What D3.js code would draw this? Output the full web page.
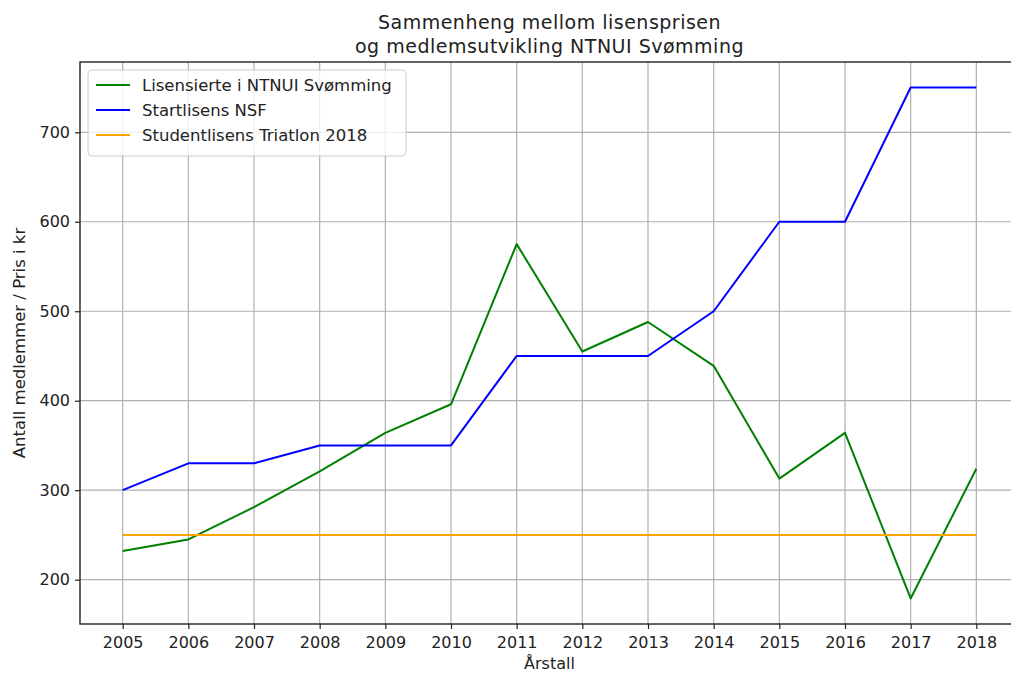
<!DOCTYPE html>
<html>
<head>
<meta charset="utf-8">
<script src="https://cdn.jsdelivr.net/npm/d3@7.9.0/dist/d3.min.js"></script>
<style>
  body { margin: 0; background: #fff; }
  svg { font-family: "DejaVu Sans", sans-serif; }
</style>
</head>
<body>
<svg id="chart" width="1011" height="673"></svg>
<script>
const years = [2005, 2006, 2007, 2008, 2009, 2010, 2011, 2012, 2013, 2014, 2015, 2016, 2017, 2018];
const lisensierte = [232, 245, 281, 321, 364, 396, 575, 455, 488, 439, 313, 364, 179, 324];
const startlisens = [300, 330, 330, 350, 350, 350, 450, 450, 450, 500, 600, 600, 750, 750];
const studentlisens = [250, 250, 250, 250, 250, 250, 250, 250, 250, 250, 250, 250, 250, 250];
const yTicks = [200, 300, 400, 500, 600, 700];

const seriesNames = ["Lisensierte i NTNUI Svømming", "Startlisens NSF", "Studentlisens Triatlon 2018"];
const seriesColors = ["#008000", "#0000ff", "#ffa500"];
const seriesValues = [lisensierte, startlisens, studentlisens];

const svg = d3.select("#chart");
const margin = { left: 80, right: -8, top: 62, bottom: 49 };
const W = 1011, H = 673;
const fs = "16px";

// matplotlib-style 5% padding around the data range
const xPad = (d3.max(years) - d3.min(years)) * 0.05;
const x = d3.scaleLinear()
    .domain([d3.min(years) - xPad, d3.max(years) + xPad])
    .range([margin.left, W - margin.right]);

const allVals = seriesValues.flat();
const yPad = (d3.max(allVals) - d3.min(allVals)) * 0.05;
const y = d3.scaleLinear()
    .domain([d3.min(allVals) - yPad, d3.max(allVals) + yPad])
    .range([H - margin.bottom, margin.top]);

// grid
const grid = svg.append("g");
grid.selectAll("line.gx").data(years).enter().append("line")
    .attr("x1", d => x(d)).attr("x2", d => x(d))
    .attr("y1", margin.top).attr("y2", H - margin.bottom)
    .attr("stroke", "#b0b0b0").attr("stroke-width", 1.2);
grid.selectAll("line.gy").data(yTicks).enter().append("line")
    .attr("x1", margin.left).attr("x2", W - margin.right)
    .attr("y1", d => y(d)).attr("y2", d => y(d))
    .attr("stroke", "#b0b0b0").attr("stroke-width", 1.2);

// lines
const line = d3.line()
    .x((d, i) => x(years[i]))
    .y(d => y(d));

seriesValues.forEach((vals, k) => {
    svg.append("path")
        .datum(vals)
        .attr("d", line)
        .attr("fill", "none")
        .attr("stroke", seriesColors[k])
        .attr("stroke-width", 2)
        .attr("stroke-linejoin", "round");
});

// axes
const xAxis = d3.axisBottom(x).tickValues(years).tickFormat(d3.format("d")).tickSize(5).tickPadding(8);
const yAxis = d3.axisLeft(y).tickValues(yTicks).tickSize(5).tickPadding(5);

const gx = svg.append("g").attr("transform", `translate(0,${H - margin.bottom})`).call(xAxis);
const gy = svg.append("g").attr("transform", `translate(${margin.left},0)`).call(yAxis);
[gx, gy].forEach(g => {
    g.select(".domain").remove();
    g.selectAll("line").attr("stroke", "#222").attr("stroke-width", 1.2);
    g.selectAll("text").attr("fill", "#222").style("font-size", fs)
        .style("font-family", "DejaVu Sans, sans-serif");
});

// spines
svg.append("rect")
    .attr("x", margin.left).attr("y", margin.top)
    .attr("width", W - margin.right - margin.left)
    .attr("height", H - margin.bottom - margin.top)
    .attr("fill", "none").attr("stroke", "#222").attr("stroke-width", 1.4);

// title
const cx = (margin.left + W - margin.right) / 2;
const title = svg.append("text").attr("text-anchor", "middle").attr("fill", "#222")
    .style("font-size", "19px").style("letter-spacing", "0.5px");
title.append("tspan").attr("x", cx).attr("y", 29).text("Sammenheng mellom lisensprisen");
title.append("tspan").attr("x", cx).attr("y", 53).text("og medlemsutvikling NTNUI Svømming");

// axis labels
svg.append("text").attr("x", cx).attr("y", 669).attr("text-anchor", "middle")
    .attr("fill", "#222").style("font-size", fs).text("Årstall");
svg.append("text").attr("transform", `translate(25,${(margin.top + H - margin.bottom) / 2}) rotate(-90)`)
    .attr("text-anchor", "middle").attr("fill", "#222").style("font-size", "16.5px")
    .text("Antall medlemmer / Pris i kr");

// legend
const legend = svg.append("g").attr("transform", "translate(88,70)");
legend.append("rect").attr("width", 318).attr("height", 86).attr("rx", 4)
    .attr("fill", "#fff").attr("fill-opacity", 0.8).attr("stroke", "#ccc");
seriesNames.forEach((name, k) => {
    const ly = 15 + k * 25;
    legend.append("line").attr("x1", 8).attr("x2", 42).attr("y1", ly).attr("y2", ly)
        .attr("stroke", seriesColors[k]).attr("stroke-width", 2);
    legend.append("text").attr("x", 54).attr("y", ly + 6).attr("fill", "#222")
        .style("font-size", "16.5px").text(name);
});
</script>
</body>
</html>
